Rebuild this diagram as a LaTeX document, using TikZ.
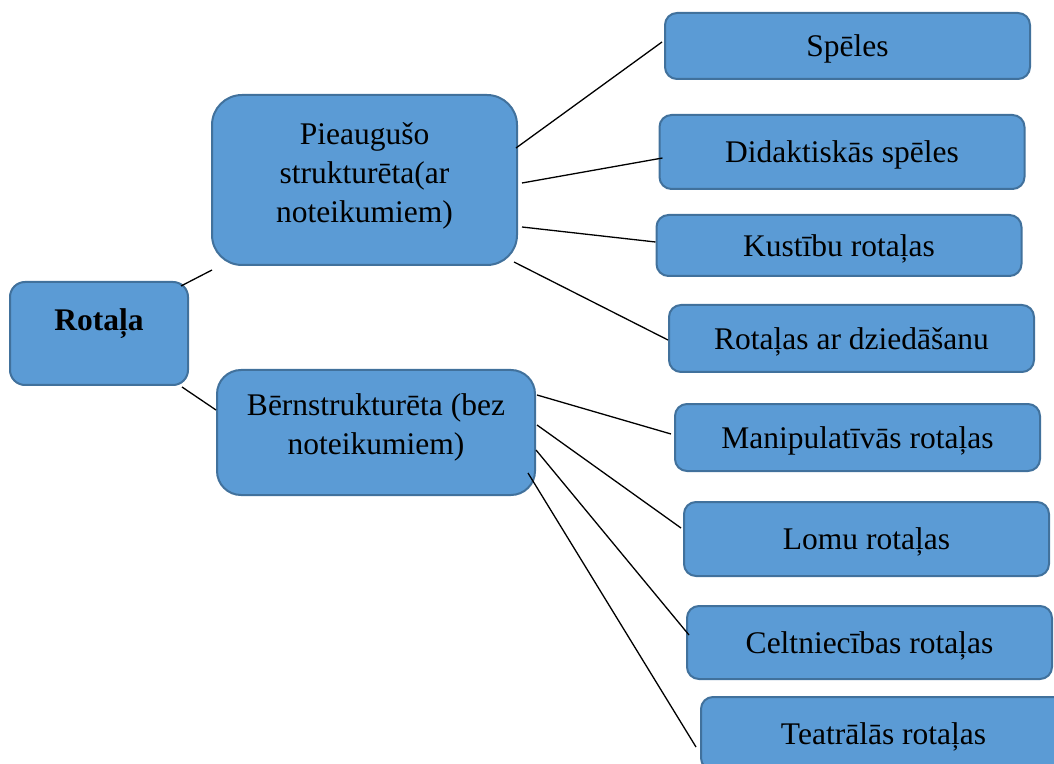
\documentclass[tikz,border=0pt]{standalone}
\usepackage{fontspec}
\setmainfont{Liberation Serif}
\usetikzlibrary{positioning}
\definecolor{boxfill}{HTML}{5B9BD5}
\definecolor{boxline}{HTML}{41719C}
\tikzset{
  box/.style={
    draw=boxline, fill=boxfill, line width=1pt,
    rounded corners=6pt, inner sep=0pt, align=center,
    font=\fontsize{15.75}{19.5}\selectfont
  },
  kind/.style={box, minimum width=182.5pt, text height=14pt, text depth=3.4pt},
  link/.style={line width=0.65pt}
}
\begin{document}
\begin{tikzpicture}[x=0.5pt,y=-0.5pt]
\useasboundingbox (0,0) rectangle (1054,764);
% main boxes
\node[box, rounded corners=7.5pt, minimum width=89pt, minimum height=51.5pt,
  font=\fontsize{15.75}{19.5}\selectfont\bfseries,
  text height=11pt, text depth=13.6pt] (rot) at (99,333.5) {Rotaļa};
\node[box, rounded corners=15pt, minimum width=152.5pt, minimum height=85pt,
  text depth=7.5pt] (pie) at (364.5,180)
  {Pieaugušo\\strukturēta(ar\\noteikumiem)};
\node[box, rounded corners=12pt, minimum width=159pt, minimum height=62.5pt,
  text depth=8.5pt] (bern) at (376,432.5)
  {Bērnstrukturēta (bez\\noteikumiem)};
% kinds of play
\node[kind, minimum height=33pt] (sp) at (847.5,46) {Spēles};
\node[kind, minimum height=37pt] (did) at (842,152) {Didaktiskās spēles};
\node[kind, minimum height=30.5pt] (kus) at (839,245.5) {Kustību rotaļas};
\node[kind, minimum height=33.5pt] (rad) at (851.5,338.5) {Rotaļas ar dziedāšanu};
\node[kind, minimum height=33.5pt] (man) at (857.5,437.5) {Manipulatīvās rotaļas};
\node[kind, minimum height=37pt] (lom) at (866.5,539) {Lomu rotaļas};
\node[kind, minimum height=36.5pt] (cel) at (869.5,642.5) {Celtniecības rotaļas};
\node[kind, minimum height=36.5pt] (tea) at (883.5,733.5) {Teatrālās rotaļas};
% connectors
\draw[link] ([shift={(-8,5)}]rot.north east) -- ([shift={(1,4)}]pie.south west);
\draw[link] ([shift={(-7,1)}]rot.south east) -- ([shift={(0,-22.5)}]bern.west);
\foreach \dst/\sx/\sy/\tx/\ty in {%
  sp/-2/-32/-2/-4,
  did/4/3/4/6,
  kus/4/47/0/-3.5,
  rad/-4/82/0/1.5%
} {
  \draw[link] ([shift={(\sx,\sy)}]pie.east) -- ([shift={(\tx,\ty)}]\dst.west);
}
\foreach \dst/\sx/\sy/\tx/\ty in {%
  man/1/-37.5/-3/-3.5,
  lom/1/-7.5/-2/-11,
  cel/0/17.5/3/-7.5,
  tea/-8/40.5/-4/13.5%
} {
  \draw[link] ([shift={(\sx,\sy)}]bern.east) -- ([shift={(\tx,\ty)}]\dst.west);
}
\end{tikzpicture}
\end{document}
